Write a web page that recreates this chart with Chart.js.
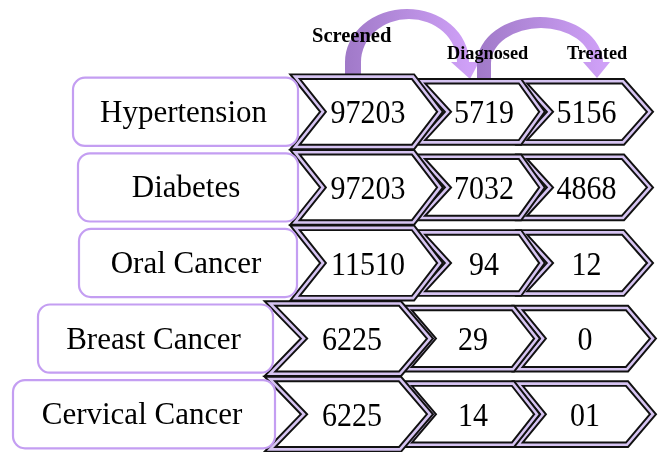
<!DOCTYPE html>
<html><head><meta charset="utf-8">
<script src="https://cdn.jsdelivr.net/npm/chart.js@4.4.0/dist/chart.umd.min.js"></script>
<style>html,body{margin:0;padding:0;background:#fff;overflow:hidden}#wrap{width:658px;height:452px;position:relative}</style>
</head><body><div id="wrap"><canvas id="c" width="658" height="452"></canvas></div>
<script>
// ---- data ----
const categories = ['Hypertension', 'Diabetes', 'Oral Cancer', 'Breast Cancer', 'Cervical Cancer'];
const stages = ['Screened', 'Diagnosed', 'Treated'];
const screened = ['97203', '97203', '11510', '6225', '6225'];
const diagnosed = ['5719', '7032', '94', '29', '14'];
const treated = ['5156', '4868', '12', '0', '01'];

// ---- layout (x in scale units) ----
const boxSpan = [[73, 298], [78, 298], [79, 297], [38, 273], [13, 275]];
const rowGroup = [0, 0, 0, 1, 1];
// [left, notch, bodyRight, tip] per stage
const chevGroups = [
  [[295, 323, 413, 440], [420, 448, 520, 542], [522, 550, 623, 650]],
  [[270, 304, 400, 430], [407, 433, 513, 537], [518, 543, 627, 653]]
];
const stageHeight = [1.0, 0.87, 0.87];
const SERIF = "'Liberation Serif','Times New Roman',serif";

function chevronPath(ctx, l, n, r, t, cy, h) {
  ctx.beginPath();
  ctx.moveTo(l, cy - h);
  ctx.lineTo(r, cy - h);
  ctx.lineTo(t, cy);
  ctx.lineTo(r, cy + h);
  ctx.lineTo(l, cy + h);
  ctx.lineTo(n, cy);
  ctx.closePath();
}

function drawArrow(ctx, xs, outer, inner, stemBottom, head) {
  const g = ctx.createLinearGradient(outer.cx - outer.rx, 0, outer.cx + outer.rx, 0);
  g.addColorStop(0, '#a079c8');
  g.addColorStop(0.5, '#b78ddf');
  g.addColorStop(1, '#cfa0f7');
  ctx.fillStyle = g;
  ctx.beginPath();
  ctx.moveTo(xs(outer.cx - outer.rx), stemBottom);
  ctx.lineTo(xs(outer.cx - outer.rx), outer.cy);
  ctx.ellipse(xs(outer.cx), outer.cy, outer.rx, outer.ry, 0, Math.PI, 2 * Math.PI, false);
  ctx.lineTo(xs(inner.cx + inner.rx), inner.cy);
  ctx.ellipse(xs(inner.cx), inner.cy, inner.rx, inner.ry, 0, 0, Math.PI, true);
  ctx.lineTo(xs(inner.cx - inner.rx), stemBottom);
  ctx.closePath();
  ctx.fill();
  ctx.beginPath();
  ctx.moveTo(xs(head[0][0]), head[0][1]);
  ctx.lineTo(xs(head[1][0]), head[1][1]);
  ctx.lineTo(xs(head[2][0]), head[2][1]);
  ctx.closePath();
  ctx.fill();
}

const infographic = {
  id: 'infographic',
  afterDraw(chart) {
    const ctx = chart.ctx;
    const xS = chart.scales.x, yS = chart.scales.y;
    const xs = v => xS.getPixelForValue(v);
    const band = yS.getPixelForValue(1) - yS.getPixelForValue(0);
    const half = band * 0.465;
    const values = [screened, diagnosed, treated];
    ctx.save();

    // arrows (behind)
    drawArrow(ctx, xs, {cx: 407, cy: 62, rx: 62, ry: 53}, {cx: 409, cy: 62, rx: 48, ry: 43}, 82,
      [[451, 62], [479, 62], [470, 79]]);
    drawArrow(ctx, xs, {cx: 540, cy: 63, rx: 63, ry: 46}, {cx: 541, cy: 63, rx: 50, ry: 35}, 82,
      [[583, 62], [610, 62], [597, 78]]);

    categories.forEach((cat, i) => {
      const cy = yS.getPixelForValue(i);
      const chevs = chevGroups[rowGroup[i]];
      // chevrons, right to left
      for (let s = 2; s >= 0; s--) {
        const [l, n, r, t] = chevs[s].map(xs);
        const h = half * stageHeight[s];
        chevronPath(ctx, l, n, r, t, cy, h);
        ctx.fillStyle = '#ffffff';
        ctx.fill();
        ctx.lineJoin = 'miter';
        ctx.lineWidth = 6.5;
        ctx.strokeStyle = '#111111';
        ctx.stroke();
        ctx.lineWidth = 2.6;
        ctx.strokeStyle = '#d6c4f2';
        ctx.stroke();
        // value text
        ctx.save();
        ctx.fillStyle = '#000';
        ctx.font = '30px ' + SERIF;
        ctx.textAlign = 'center';
        ctx.textBaseline = 'alphabetic';
        ctx.translate((n + r) / 2, cy + 11.5);
        ctx.scale(1, 1.15);
        ctx.fillText(values[s][i], 0, 0);
        ctx.restore();
      }
      // label box
      const [bl, br] = boxSpan[i].map(xs);
      const bh = half * 0.97;
      ctx.beginPath();
      ctx.roundRect(bl, cy - bh, br - bl, bh * 2, 12);
      ctx.fillStyle = '#ffffff';
      ctx.fill();
      ctx.lineWidth = 2.2;
      ctx.strokeStyle = '#c49ef2';
      ctx.stroke();
      ctx.fillStyle = '#000';
      ctx.font = '31px ' + SERIF;
      ctx.textAlign = 'center';
      ctx.textBaseline = 'alphabetic';
      ctx.fillText(cat, (bl + br) / 2 - 2, cy + 10);
    });

    // stage headers
    ctx.fillStyle = '#000';
    ctx.textAlign = 'left';
    ctx.textBaseline = 'alphabetic';
    ctx.font = 'bold 20.5px ' + SERIF;
    ctx.fillText(stages[0], xs(312), 42);
    ctx.font = 'bold 18.3px ' + SERIF;
    ctx.fillText(stages[1], xs(447), 59);
    ctx.fillText(stages[2], xs(567), 59);
    ctx.restore();
  }
};

new Chart(document.getElementById('c'), {
  type: 'scatter',
  data: { labels: categories, datasets: [{ label: 'rows', data: [] }] },
  options: {
    responsive: false,
    animation: false,
    events: [],
    layout: { padding: { top: 74, bottom: 0, left: 0, right: 0 } },
    plugins: { legend: { display: false }, tooltip: { enabled: false } },
    scales: {
      x: { type: 'linear', min: 0, max: 658, display: false },
      y: { type: 'category', labels: categories, offset: true, display: false }
    }
  },
  plugins: [infographic]
});
</script>
</body></html>
